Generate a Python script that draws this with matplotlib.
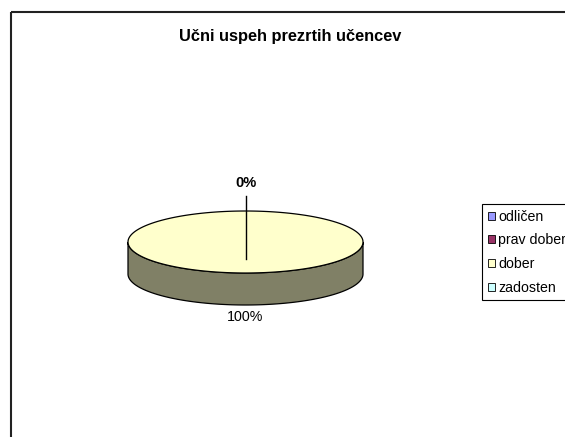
import numpy as np
import matplotlib
matplotlib.use("Agg")
import matplotlib.pyplot as plt
from matplotlib.patches import Polygon, Rectangle, Patch

plt.rcParams['font.family'] = ['Liberation Sans', 'DejaVu Sans']

# data
title = "Učni uspeh prezrtih učencev"
categories = ["odličen", "prav dober", "dober", "zadosten"]
values = [0, 0, 100, 0]
colors = ["#9999FF", "#993366", "#FFFFCC", "#CCFFFF"]
side_colors = ["#666699", "#662244", "#808066", "#88AAAA"]

# layout (pixels)
W, H = 565, 437
cx, cy = 245.5, 242.0   # centre of top face
ra, rb = 117.5, 31.0    # ellipse radii
depth = 32.0

fig = plt.figure(figsize=(W / 100, H / 100), dpi=100)
ax = fig.add_axes([0, 0, 1, 1])
ax.set_xlim(0, W)
ax.set_ylim(H, 0)
ax.axis("off")

# chart area border
ax.add_patch(Rectangle((10.5, 11.5), 700, 600, fill=False, edgecolor="#222222", lw=1.5))


def ell(theta, dy=0.0):
    t = np.radians(theta)
    return np.column_stack([cx + ra * np.cos(t), cy - rb * np.sin(t) + dy])


total = float(sum(values))
fracs = [v / total for v in values]
start = 90.0
slices = []
for frac in fracs:
    end = start - frac * 360.0
    slices.append((start, end))
    start = end

# side walls (front half only: angles between 180 and 360)
for (a0, a1), frac, sc in zip(slices, fracs, side_colors):
    if frac <= 0:
        continue
    lo, hi = a1, a0
    for k in range(-2, 2):
        s0 = max(lo, 180 + 360 * k)
        s1 = min(hi, 360 + 360 * k)
        if s1 > s0:
            th = np.linspace(s0, s1, 200)
            top = ell(th)
            bot = ell(th[::-1], depth)
            ax.add_patch(Polygon(np.vstack([top, bot]), closed=True,
                                 facecolor=sc, edgecolor="black", lw=0.9, zorder=2))

# top faces
for (a0, a1), frac, c in zip(slices, fracs, colors):
    if frac <= 0:
        continue
    th = np.linspace(a0, a1, 400)
    pts = ell(th)
    if frac < 1:
        pts = np.vstack([[cx, cy], pts])
    ax.add_patch(Polygon(pts, closed=True, facecolor=c, edgecolor="black",
                         lw=0.9, zorder=3))

# data labels
done = set()
for (a0, a1), frac in zip(slices, fracs):
    mid = (a0 + a1) / 2.0
    txt = f"{frac * 100:.0f}%"
    key = (round(mid % 360, 3), txt)
    if key in done:
        continue
    done.add(key)
    t = np.radians(mid)
    lx = cx + ra * np.cos(t)
    if frac == 0:
        ly = cy - rb * np.sin(t) - 28
        ax.plot([lx, lx], [ly + 13, cy + 17], color="black", lw=1.0, zorder=4)
        ax.text(lx, ly, txt, ha="center", va="center", fontsize=10.5,
                fontweight="bold", zorder=5)
    else:
        ly = cy - rb * np.sin(t) + depth + 12
        ax.text(lx, ly, txt, ha="center", va="center", fontsize=10.3, zorder=5)

ax.text(290.5, 36, title, ha="center", va="center", fontsize=11.8,
        fontweight="bold")

handles = [Patch(facecolor=c, edgecolor="black", lw=0.6) for c in colors]
leg = fig.legend(handles, categories, loc="upper left",
                 bbox_to_anchor=(482 / W, 1 - 204 / H), bbox_transform=fig.transFigure,
                 borderaxespad=0, frameon=True, fancybox=False, edgecolor="black",
                 framealpha=1, fontsize=10.2, handlelength=0.5, handleheight=0.5,
                 handletextpad=0.25, labelspacing=0.68, borderpad=0.4)
leg.get_frame().set_linewidth(0.8)

fig.savefig("out.png", dpi=100)
